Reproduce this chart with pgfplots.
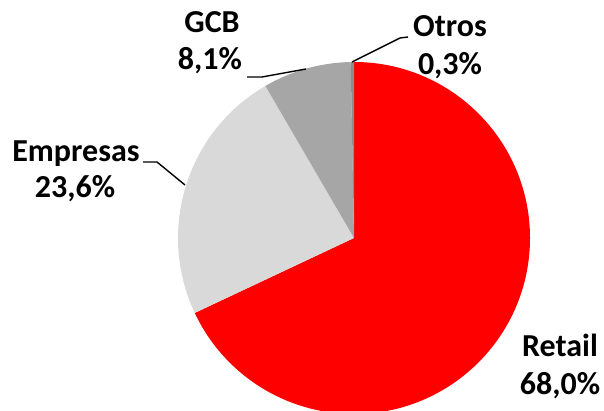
\documentclass[border=0pt]{standalone}
\usepackage{pgfplots}
\pgfplotsset{compat=1.18}
\usepackage{pgfplotstable}
\usepackage{fontspec}
\setmainfont{Carlito}
\definecolor{cRetail}{HTML}{FF0000}
\definecolor{cEmp}{HTML}{D9D9D9}
\definecolor{cGCB}{HTML}{A6A6A6}
\definecolor{cOtros}{HTML}{8C8C8C}

\pgfplotstableread{
name value
Retail 68.0
Empresas 23.6
GCB 8.1
Otros 0.3
}\piedata

\begin{document}
\begin{tikzpicture}
\pgfplotstablegetelem{0}{value}\of\piedata \let\vA\pgfplotsretval
\pgfplotstablegetelem{1}{value}\of\piedata \let\vB\pgfplotsretval
\pgfplotstablegetelem{2}{value}\of\piedata \let\vC\pgfplotsretval
\pgfplotstablegetelem{3}{value}\of\piedata \let\vD\pgfplotsretval
\pgfmathsetmacro\aA{90-3.6*\vA}
\pgfmathsetmacro\aB{\aA-3.6*\vB}
\pgfmathsetmacro\aC{\aB-3.6*\vC}
\pgfmathsetmacro\aD{\aC-3.6*\vD}
\def\cx{354}\def\cy{173}\def\r{176}
\begin{axis}[name=ax, x=1pt, y=1pt, xmin=0, xmax=604, ymin=0, ymax=411,
  hide axis, clip=false]
\begin{scope}
\clip (axis cs:0,0) rectangle (axis cs:604,411);
\fill[cRetail] (axis cs:\cx,\cy) -- ++(90:\r pt) arc[start angle=90, end angle=\aA, radius=\r pt] -- cycle;
\fill[cEmp] (axis cs:\cx,\cy) -- ++(\aA:\r pt) arc[start angle=\aA, end angle=\aB, radius=\r pt] -- cycle;
\fill[cGCB] (axis cs:\cx,\cy) -- ++(\aB:\r pt) arc[start angle=\aB, end angle=\aC, radius=\r pt] -- cycle;
\fill[cOtros] (axis cs:\cx,\cy) -- ++(\aC:\r pt) arc[start angle=\aC, end angle=\aD, radius=\r pt] -- cycle;
\end{scope}
\draw[line width=1.4pt] (axis cs:352,349) -- (axis cs:400,373) -- (axis cs:408,374);
\draw[line width=1.4pt] (axis cs:306,342) -- (axis cs:262,334) -- (axis cs:247,334);
\draw[line width=1.4pt] (axis cs:185,226) -- (axis cs:157,249) -- (axis cs:143,249);
\tikzset{lab/.style={anchor=base, inner sep=0pt, font=\fontsize{32}{38}\selectfont\bfseries}}
\node[lab] at (axis cs:212,378) {GCB};
\node[lab] at (axis cs:210,341) {8,1\%};
\node[lab] at (axis cs:450,374) {Otros};
\node[lab] at (axis cs:450,336) {0,3\%};
\node[lab] at (axis cs:76,249) {Empresas};
\node[lab] at (axis cs:75,213) {23,6\%};
\node[lab] at (axis cs:560,54) {Retail};
\node[lab] at (axis cs:560,16) {68,0\%};
\end{axis}
\pgfresetboundingbox
\path (ax.south west) rectangle (ax.north east);
\end{tikzpicture}
\end{document}
